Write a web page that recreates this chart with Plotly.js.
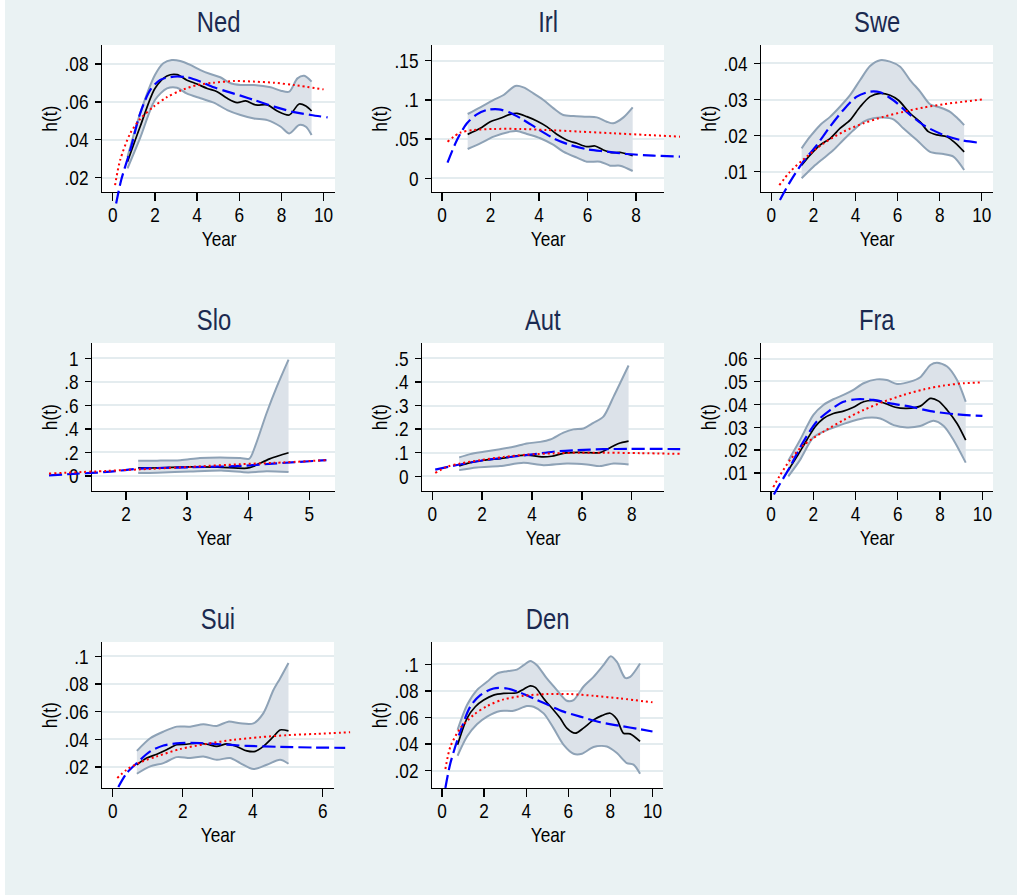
<!DOCTYPE html>
<html>
<head>
<meta charset="utf-8">
<script src="https://cdn.plot.ly/plotly-3.0.1.min.js"></script>
<style>
  html, body { margin: 0; padding: 0; background: #eaf2f3; }
  #chart { width: 1017px; height: 895px; }
</style>
</head>
<body>
<div id="chart"></div>
<script>
// ---------------- Hazard estimates by country ----------------
// t = years, h = smoothed hazard; up/lo = confidence band; a = dashed fit; b = dotted fit

// Ned
const nedT  = [0.70,1.3,2.0,2.57,3.05,3.5,4.0,4.48,4.95,5.43,5.9,6.3,6.78,7.33,7.8,8.37,8.84,9.16,9.43];
const nedH  = [0.0284,0.047,0.0671,0.0737,0.0744,0.0716,0.0694,0.0671,0.0654,0.0619,0.0596,0.0605,0.0584,0.0584,0.0552,0.0531,0.0589,0.0578,0.0552];
const nedUpT = [0.70,1.3,2.0,2.4,2.8,3.2,3.68,4.16,4.63,5.1,5.59,6.06,6.7,7.49,7.97,8.37,8.76,9.08,9.43];
const nedUp  = [0.031,0.054,0.0742,0.0804,0.0821,0.0816,0.0795,0.0768,0.0747,0.073,0.0698,0.0689,0.0689,0.0677,0.0659,0.0654,0.0724,0.0738,0.0707];
const nedLoT = [0.70,1.3,2.0,2.57,3.05,3.5,4.16,4.79,5.43,6.06,6.7,7.33,7.97,8.37,8.84,9.16,9.43];
const nedLo  = [0.0249,0.041,0.061,0.0671,0.0675,0.0645,0.0619,0.0596,0.0557,0.0531,0.0513,0.0504,0.0469,0.0434,0.0478,0.0469,0.0425];
const nedAT = [0.16,0.40,0.83,1.3,1.78,2.25,2.89,3.52,4.16,4.79,5.43,6.06,6.7,7.65,8.6,9.4,10.19];
const nedA  = [0.0064,0.0188,0.0346,0.054,0.0663,0.0716,0.0733,0.073,0.0707,0.0677,0.0654,0.0633,0.061,0.0575,0.0546,0.0531,0.0518];
const nedBT = [0.11,0.35,0.83,1.3,1.94,2.57,3.2,4.0,4.79,5.75,6.7,7.65,8.6,10.0];
const nedB  = [0.0161,0.0293,0.0434,0.051,0.0575,0.0625,0.0659,0.0689,0.0701,0.071,0.0707,0.0701,0.0689,0.0666];
const nedXTicks = [0,2,4,6,8,10];
const nedYTicks = [0.02,0.04,0.06,0.08];
const nedYLabels = ['.02','.04','.06','.08'];

// Irl
const irlT  = [1.06,1.58,1.99,2.4,2.81,3.09,3.5,3.91,4.32,4.73,5.14,5.56,5.97,6.31,6.65,7.0,7.34,7.61,7.86];
const irlH  = [0.056,0.0637,0.0722,0.0765,0.0816,0.0829,0.0786,0.0731,0.0659,0.0561,0.0489,0.0446,0.0403,0.0412,0.0361,0.0327,0.0331,0.031,0.0289];
const irlUpT = [1.06,1.58,2.13,2.54,3.02,3.36,3.77,4.18,4.6,5.0,5.42,5.97,6.38,6.79,7.06,7.48,7.86];
const irlUp  = [0.082,0.0905,0.0999,0.1062,0.1177,0.116,0.1084,0.0999,0.0892,0.0807,0.0794,0.0786,0.0777,0.0722,0.0701,0.0777,0.0905];
const irlLoT = [1.06,1.58,2.13,2.81,3.09,3.5,4.05,4.6,5.0,5.56,5.97,6.52,6.93,7.34,7.86];
const irlLo  = [0.0374,0.0446,0.0531,0.0595,0.0603,0.0565,0.051,0.0425,0.034,0.0263,0.0212,0.0212,0.0161,0.0161,0.0093];
const irlAT = [0.23,0.62,1.03,1.44,1.85,2.33,2.81,3.36,3.91,4.6,5.28,5.97,6.79,7.61,8.71,9.81];
const irlA  = [0.02,0.0488,0.0701,0.0816,0.0871,0.0879,0.0837,0.0744,0.0637,0.051,0.0425,0.037,0.034,0.031,0.0289,0.0276];
const irlBT = [0.23,0.75,1.3,2.13,3.22,4.32,5.69,7.06,8.44,9.81];
const irlB  = [0.0467,0.0582,0.0616,0.0629,0.0629,0.0616,0.0595,0.0574,0.0552,0.0531];
const irlXTicks = [0,2,4,6,8];
const irlYTicks = [0,0.05,0.1,0.15];
const irlYLabels = ['0','.05','.1','.15'];

// Swe
const sweT  = [1.44,1.84,2.31,2.79,3.26,3.74,4.22,4.69,5.17,5.64,6.04,6.59,7.07,7.46,7.86,8.34,8.73,9.16];
const sweH  = [0.0118,0.0146,0.0174,0.0192,0.022,0.0243,0.028,0.0308,0.0317,0.0312,0.0298,0.0262,0.0238,0.0211,0.0202,0.0197,0.018,0.0155];
const sweUpT = [1.44,1.84,2.31,2.79,3.26,3.74,4.22,4.69,5.17,5.64,6.12,6.59,7.07,7.54,8.02,8.49,8.81,9.16];
const sweUp  = [0.0165,0.0197,0.0229,0.0252,0.028,0.0312,0.0354,0.0393,0.0409,0.0405,0.0391,0.0354,0.0322,0.0287,0.0278,0.0266,0.025,0.0229];
const sweLoT = [1.44,2.0,2.47,2.95,3.42,3.9,4.37,4.85,5.32,5.8,6.28,6.91,7.54,8.18,8.65,9.16];
const sweLo  = [0.0082,0.0114,0.0137,0.016,0.0188,0.0215,0.0238,0.0248,0.025,0.0245,0.022,0.0188,0.0155,0.0149,0.0142,0.0105];
const sweAT = [0.41,0.89,1.52,2.16,2.79,3.42,4.06,4.69,5.17,5.8,6.43,7.23,8.18,8.97,9.76];
const sweA  = [0.0022,0.0072,0.0128,0.0174,0.0225,0.0271,0.0308,0.0322,0.032,0.0298,0.0266,0.0229,0.0202,0.0188,0.0181];
const sweBT = [0.38,0.89,1.52,2.47,3.42,4.37,5.32,6.28,7.23,8.18,9.13,10.0];
const sweB  = [0.0063,0.01,0.0134,0.0178,0.0211,0.0234,0.0252,0.0266,0.0278,0.0287,0.0294,0.03];
const sweXTicks = [0,2,4,6,8,10];
const sweYTicks = [0.01,0.02,0.03,0.04];
const sweYLabels = ['.01','.02','.03','.04'];

// Slo
const sloT  = [2.2,2.51,3.05,3.5,3.98,4.08,4.2,4.35,4.5,4.66];
const sloH  = [0.068,0.068,0.077,0.075,0.066,0.08,0.11,0.145,0.172,0.197];
const sloUpT = [2.2,2.51,2.89,3.21,3.54,3.87,4.02,4.11,4.3,4.47,4.66];
const sloUp  = [0.13,0.13,0.134,0.152,0.157,0.152,0.148,0.248,0.533,0.761,0.989];
const sloLoT = [2.2,2.51,3.05,3.6,4.0,4.3,4.66];
const sloLo  = [0.026,0.028,0.038,0.045,0.03,0.04,0.034];
const sloAT = [0.74,1.15,1.69,2.23,3.05,3.87,4.41,5.28];
const sloA  = [0.004,0.018,0.034,0.062,0.074,0.085,0.105,0.134];
const sloBT = [0.74,1.69,2.23,3.05,3.87,4.41,5.28];
const sloB  = [0.02,0.043,0.056,0.077,0.1,0.111,0.134];
const sloXTicks = [2,3,4,5];
const sloYTicks = [0,0.2,0.4,0.6,0.8,1];
const sloYLabels = ['0','.2','.4','.6','.8','1'];

// Aut
const autT  = [1.08,1.52,2.06,2.72,3.39,3.93,4.39,4.79,5.26,5.8,6.33,6.73,7.07,7.47,7.87];
const autH  = [0.044,0.058,0.068,0.075,0.087,0.089,0.082,0.085,0.097,0.101,0.1,0.1,0.118,0.139,0.149];
const autUpT = [1.08,1.52,2.06,2.72,3.26,3.79,4.33,4.73,5.26,5.66,6.06,6.46,6.86,7.27,7.87];
const autUp  = [0.08,0.094,0.104,0.115,0.125,0.139,0.146,0.156,0.185,0.199,0.203,0.227,0.253,0.338,0.47];
const autLoT = [1.08,1.79,2.72,3.66,4.46,5.4,6.2,6.73,7.27,7.87];
const autLo  = [0.026,0.037,0.043,0.057,0.047,0.054,0.05,0.043,0.054,0.05];
const autAT = [0.12,1.12,2.06,2.99,3.93,4.86,5.8,6.86,7.93,9.0,9.94];
const autA  = [0.028,0.05,0.068,0.08,0.092,0.104,0.111,0.115,0.116,0.116,0.115];
const autBT = [0.12,0.59,1.12,1.92,2.86,3.79,4.86,5.93,7.0,8.33,9.94];
const autB  = [0.014,0.04,0.054,0.068,0.082,0.092,0.097,0.1,0.1,0.098,0.095];
const autXTicks = [0,2,4,6,8];
const autYTicks = [0,0.1,0.2,0.3,0.4,0.5];
const autYLabels = ['0','.1','.2','.3','.4','.5'];

// Fra
const fraT  = [0.82,1.22,1.69,2.09,2.48,2.95,3.43,3.9,4.38,4.93,5.4,5.88,6.43,7.06,7.54,7.93,8.33,8.8,9.21];
const fraH  = [0.0112,0.017,0.0243,0.0302,0.0338,0.036,0.037,0.0387,0.0411,0.0416,0.0404,0.0387,0.0382,0.0392,0.0426,0.0414,0.0375,0.0316,0.0243];
const fraUpT = [0.82,1.37,2.0,2.48,2.95,3.43,3.9,4.38,5.0,5.48,5.96,6.59,7.06,7.54,7.85,8.33,8.8,9.21];
const fraUp  = [0.0153,0.0243,0.0353,0.0397,0.0422,0.0441,0.0463,0.0492,0.0509,0.0506,0.0489,0.0499,0.0518,0.0572,0.0582,0.0565,0.0506,0.0411];
const fraLoT = [0.82,1.37,2.0,2.64,3.27,3.9,4.53,5.17,5.8,6.43,7.06,7.69,8.17,8.64,9.21];
const fraLo  = [0.0085,0.0156,0.0255,0.0287,0.0309,0.0328,0.0341,0.0338,0.0309,0.0299,0.0305,0.0328,0.0305,0.0243,0.0145];
const fraAT = [0.14,0.43,0.9,1.53,2.16,2.8,3.43,4.06,4.85,5.64,6.59,7.54,8.8,10.0];
const fraA  = [0.0006,0.0053,0.0126,0.0236,0.0324,0.0375,0.0411,0.0422,0.0419,0.0404,0.039,0.037,0.0356,0.0349];
const fraBT = [0.11,0.43,0.9,1.53,2.48,3.43,4.38,5.32,6.27,7.22,8.17,9.12,10.0];
const fraB  = [0.0038,0.009,0.0156,0.0221,0.028,0.0331,0.0375,0.0411,0.0441,0.0465,0.0482,0.0492,0.0496];
const fraXTicks = [0,2,4,6,8,10];
const fraYTicks = [0.01,0.02,0.03,0.04,0.05,0.06];
const fraYLabels = ['.01','.02','.03','.04','.05','.06'];

// Sui
const suiT  = [0.69,0.97,1.26,1.54,1.83,2.11,2.4,2.69,2.97,3.26,3.54,3.83,4.07,4.3,4.59,4.78,5.02];
const suiH  = [0.0217,0.0265,0.0293,0.0325,0.0361,0.0365,0.0373,0.0365,0.0349,0.0368,0.0349,0.0317,0.0313,0.0349,0.042,0.0468,0.0461];
const suiUpT = [0.69,1.07,1.45,1.83,2.21,2.59,2.97,3.3,3.64,4.02,4.3,4.59,4.78,5.02];
const suiUp  = [0.0317,0.0408,0.0456,0.0492,0.0492,0.0509,0.0497,0.0528,0.0516,0.0516,0.0588,0.0756,0.084,0.0952];
const suiLoT = [0.69,1.07,1.45,1.83,2.21,2.59,2.97,3.35,3.64,4.02,4.4,4.78,5.02];
const suiLo  = [0.0152,0.0205,0.0229,0.0272,0.0265,0.0277,0.0253,0.0265,0.0229,0.0186,0.0217,0.0253,0.0224];
const suiAT = [0.16,0.4,0.69,1.07,1.45,1.92,2.5,3.07,3.83,4.78,5.73,6.64];
const suiA  = [0.0056,0.0157,0.0229,0.0313,0.0356,0.0373,0.0373,0.0365,0.0353,0.0346,0.0341,0.0339];
const suiBT = [0.13,0.4,0.78,1.26,1.92,2.69,3.45,4.21,4.97,5.83,6.78];
const suiB  = [0.0121,0.0181,0.0234,0.0277,0.033,0.0368,0.0397,0.0416,0.043,0.044,0.0452];
const suiXTicks = [0,2,4,6];
const suiYTicks = [0.02,0.04,0.06,0.08,0.1];
const suiYLabels = ['.02','.04','.06','.08','.1'];

// Den
const denT  = [0.74,1.19,1.58,1.98,2.45,2.93,3.56,3.88,4.19,4.43,4.83,5.3,5.62,5.93,6.33,6.72,7.2,7.59,7.99,8.31,8.62,8.94,9.41];
const denH  = [0.0395,0.0594,0.0681,0.0731,0.0768,0.0781,0.0786,0.0813,0.0838,0.0826,0.0743,0.0656,0.0594,0.052,0.0482,0.052,0.0582,0.0614,0.0632,0.0587,0.0482,0.0477,0.042];
const denUpT = [0.74,1.19,1.66,2.14,2.61,3.09,3.56,3.88,4.19,4.51,4.98,5.46,5.93,6.25,6.72,7.2,7.67,8.02,8.31,8.7,8.94,9.41];
const denUp  = [0.0507,0.0694,0.0806,0.0868,0.093,0.0948,0.096,0.0993,0.1025,0.0993,0.0893,0.0806,0.0726,0.0731,0.0831,0.0905,0.0993,0.106,0.1017,0.0898,0.0905,0.1005];
const denLoT = [0.74,1.19,1.66,2.14,2.77,3.4,4.03,4.35,4.83,5.3,5.78,6.25,6.65,7.2,7.83,8.31,8.78,9.1,9.41];
const denLo  = [0.0313,0.0457,0.0549,0.0607,0.0649,0.0651,0.0686,0.0681,0.0631,0.052,0.0395,0.0328,0.0328,0.0378,0.0382,0.0333,0.0258,0.0246,0.0178];
const denAT = [0.16,0.4,0.87,1.34,1.82,2.45,3.09,3.72,4.35,4.98,5.78,6.57,7.52,8.47,9.41,10.0];
const denA  = [0.0071,0.0258,0.0495,0.0681,0.0768,0.0818,0.0818,0.0786,0.0743,0.0699,0.0644,0.0607,0.0564,0.0537,0.0512,0.0495];
const denBT = [0.16,0.4,0.87,1.5,2.14,2.93,3.88,4.98,6.09,7.2,8.47,10.0];
const denB  = [0.0213,0.0382,0.0519,0.0619,0.0686,0.0736,0.0763,0.0776,0.0776,0.0763,0.0743,0.0714];
const denXTicks = [0,2,4,6,8,10];
const denYTicks = [0.02,0.04,0.06,0.08,0.1];
const denYLabels = ['.02','.04','.06','.08','.1'];

const countries = ['Ned','Irl','Swe','Slo','Aut','Fra','Sui','Den'];
const xTitle = 'Year';
const yTitle = 'h(t)';

const series = {
  Ned: {t: nedT, h: nedH, upT: nedUpT, up: nedUp, loT: nedLoT, lo: nedLo, aT: nedAT, a: nedA, bT: nedBT, b: nedB, xt: nedXTicks, yt: nedYTicks, yl: nedYLabels},
  Irl: {t: irlT, h: irlH, upT: irlUpT, up: irlUp, loT: irlLoT, lo: irlLo, aT: irlAT, a: irlA, bT: irlBT, b: irlB, xt: irlXTicks, yt: irlYTicks, yl: irlYLabels},
  Swe: {t: sweT, h: sweH, upT: sweUpT, up: sweUp, loT: sweLoT, lo: sweLo, aT: sweAT, a: sweA, bT: sweBT, b: sweB, xt: sweXTicks, yt: sweYTicks, yl: sweYLabels},
  Slo: {t: sloT, h: sloH, upT: sloUpT, up: sloUp, loT: sloLoT, lo: sloLo, aT: sloAT, a: sloA, bT: sloBT, b: sloB, xt: sloXTicks, yt: sloYTicks, yl: sloYLabels},
  Aut: {t: autT, h: autH, upT: autUpT, up: autUp, loT: autLoT, lo: autLo, aT: autAT, a: autA, bT: autBT, b: autB, xt: autXTicks, yt: autYTicks, yl: autYLabels},
  Fra: {t: fraT, h: fraH, upT: fraUpT, up: fraUp, loT: fraLoT, lo: fraLo, aT: fraAT, a: fraA, bT: fraBT, b: fraB, xt: fraXTicks, yt: fraYTicks, yl: fraYLabels},
  Sui: {t: suiT, h: suiH, upT: suiUpT, up: suiUp, loT: suiLoT, lo: suiLo, aT: suiAT, a: suiA, bT: suiBT, b: suiB, xt: suiXTicks, yt: suiYTicks, yl: suiYLabels},
  Den: {t: denT, h: denH, upT: denUpT, up: denUp, loT: denLoT, lo: denLo, aT: denAT, a: denA, bT: denBT, b: denB, xt: denXTicks, yt: denYTicks, yl: denYLabels}
};

// ---------------- Panel frames (pixels) and axis ranges ----------------
const W = 1017, H = 895;
const frames = {
  Ned: {l: 102, r: 335, t: 45,  b: 192, xr: [-0.51, 10.54], yr: [0.0125, 0.090],  ytx: 49},
  Irl: {l: 432, r: 664, t: 45,  b: 192, xr: [-0.41, 9.15],  yr: [-0.0175, 0.17],  ytx: 379},
  Swe: {l: 761, r: 993, t: 45,  b: 192, xr: [-0.49, 10.53], yr: [0.0044, 0.0451], ytx: 708},
  Slo: {l: 92,  r: 335, t: 343, b: 491, xr: [1.444, 5.42],  yr: [-0.128, 1.13],   ytx: 49},
  Aut: {l: 422, r: 664, t: 343, b: 491, xr: [-0.41, 9.29],  yr: [-0.0626, 0.5656], ytx: 379},
  Fra: {l: 761, r: 993, t: 343, b: 491, xr: [-0.47, 10.5],  yr: [0.0021, 0.0668], ytx: 708},
  Sui: {l: 102, r: 334, t: 642, b: 788, xr: [-0.306, 6.32], yr: [0.0049, 0.1103], ytx: 49},
  Den: {l: 432, r: 663, t: 642, b: 788, xr: [-0.475, 10.5], yr: [0.00706, 0.1167], ytx: 379}
};

const FONT = 'Liberation Sans Narrow, Arial Narrow, Liberation Sans, Arial, sans-serif';
const NARROW = 0.82;   // horizontal squeeze applied to all labels (condensed face)
const BAND_LINE = '#8ea2b6';
const BAND_FILL = '#dce2e9';
const GRID = '#e4ecef';

// Plotly axis naming: first axis is "xaxis"/"x", then "xaxis2"/"x2", ...
const axKey = (p, n) => (n === 1 ? p + 'axis' : p + 'axis' + n);
const axId = (p, n) => (n === 1 ? p : p + n);

const traces = [];
const layout = {
  width: W, height: H,
  margin: {l: 0, r: 0, t: 0, b: 0},
  paper_bgcolor: '#eaf2f3',
  plot_bgcolor: 'rgba(0,0,0,0)',
  showlegend: false,
  font: {family: FONT, color: '#000'},
  shapes: [
    // thin white strip on the left edge of the canvas
    {type: 'rect', xref: 'paper', yref: 'paper', x0: 0, x1: 5 / W, y0: 0, y1: 1,
     fillcolor: '#ffffff', line: {width: 0}, layer: 'below'}
  ],
  annotations: []
};

countries.forEach((c, i) => {
  const f = frames[c], s = series[c];
  const k = 2 * i + 1;          // frame axes (ticks, grid, band, smoothed hazard)
  const kc = k + 1;             // wider hidden axes so fitted curves may run past the frame

  layout[axKey('x', k)] = {
    domain: [f.l / W, f.r / W], range: f.xr, anchor: axId('y', k),
    showline: true, linecolor: '#000', linewidth: 1.3,
    ticks: 'outside', ticklen: 8, tickwidth: 1.3, tickcolor: '#000',
    ticklabelstandoff: -5,
    tickmode: 'array', tickvals: s.xt,
    tickfont: {family: FONT, size: 21, color: '#000'},
    showgrid: false, zeroline: false, fixedrange: true
  };
  layout[axKey('y', k)] = {
    domain: [1 - f.b / H, 1 - f.t / H], range: f.yr, anchor: axId('x', k),
    showline: true, linecolor: '#000', linewidth: 1.3,
    ticks: 'outside', ticklen: 6, tickwidth: 1.3, tickcolor: '#000',
    ticklabelstandoff: 2,
    tickmode: 'array', tickvals: s.yt, ticktext: s.yl,
    tickfont: {family: FONT, size: 21, color: '#000'},
    showgrid: true, gridcolor: GRID, gridwidth: 2, zeroline: false, fixedrange: true
  };

  const exL = Math.min(50, f.l - 1), exR = Math.min(50, W - 1 - f.r);
  const exT = 30, exB = 30;
  const sx = (f.xr[1] - f.xr[0]) / (f.r - f.l);
  const sy = (f.yr[1] - f.yr[0]) / (f.b - f.t);
  layout[axKey('x', kc)] = {
    domain: [(f.l - exL) / W, (f.r + exR) / W],
    range: [f.xr[0] - exL * sx, f.xr[1] + exR * sx],
    anchor: axId('y', kc), visible: false, fixedrange: true
  };
  layout[axKey('y', kc)] = {
    domain: [1 - (f.b + exB) / H, 1 - (f.t - exT) / H],
    range: [f.yr[0] - exB * sy, f.yr[1] + exT * sy],
    anchor: axId('x', kc), visible: false, fixedrange: true
  };

  // white plot region
  layout.shapes.push({
    type: 'rect', xref: 'paper', yref: 'paper',
    x0: f.l / W, x1: f.r / W, y0: 1 - f.b / H, y1: 1 - f.t / H,
    fillcolor: '#ffffff', line: {width: 0}, layer: 'below'
  });

  // panel title and axis titles
  layout.annotations.push(
    {text: c, xref: 'paper', yref: 'paper', x: (f.l + f.r) / 2 / W, y: 1 - (f.t - 23) / H,
     xanchor: 'center', yanchor: 'middle', showarrow: false,
     font: {family: FONT, size: 29, color: '#1b2a50'}},
    {text: xTitle, xref: 'paper', yref: 'paper', x: (f.l + f.r) / 2 / W, y: 1 - (f.b + 46.5) / H,
     xanchor: 'center', yanchor: 'middle', showarrow: false,
     font: {family: FONT, size: 21, color: '#000'}},
    {text: yTitle, xref: 'paper', yref: 'paper', x: f.ytx / W, y: 1 - (f.t + f.b) / 2 / H,
     xanchor: 'center', yanchor: 'middle', textangle: -90, showarrow: false,
     font: {family: FONT, size: 21, color: '#000'}}
  );

  const inFrame = {xaxis: axId('x', k), yaxis: axId('y', k), mode: 'lines', hoverinfo: 'skip'};
  const wide = {xaxis: axId('x', kc), yaxis: axId('y', kc), mode: 'lines', hoverinfo: 'skip'};
  traces.push(
    Object.assign({x: s.loT, y: s.lo, line: {color: BAND_LINE, width: 2, shape: 'spline', smoothing: 0.8}}, inFrame),
    Object.assign({x: s.upT, y: s.up, fill: 'tonexty', fillcolor: BAND_FILL,
                   line: {color: BAND_LINE, width: 2, shape: 'spline', smoothing: 0.8}}, inFrame),
    Object.assign({x: s.t, y: s.h, line: {color: '#000000', width: 1.7, shape: 'spline', smoothing: 0.8}}, inFrame),
    Object.assign({x: s.aT, y: s.a, line: {color: '#0000ff', width: 2.2, dash: '13px,5px', shape: 'spline', smoothing: 0.8}}, wide),
    Object.assign({x: s.bT, y: s.b, line: {color: '#ff0000', width: 2, dash: '2px,3px', shape: 'spline', smoothing: 0.8}}, wide)
  );
});

Plotly.newPlot('chart', traces, layout, {staticPlot: true, displayModeBar: false}).then(gd => {
  // condense every label horizontally, keeping its anchor point
  gd.querySelectorAll('.main-svg text').forEach(t => {
    const w = t.getComputedTextLength();
    if (w > 0) {
      t.setAttribute('lengthAdjust', 'spacingAndGlyphs');
      t.setAttribute('textLength', (w * NARROW).toFixed(2));
    }
  });
});
</script>
</body>
</html>
